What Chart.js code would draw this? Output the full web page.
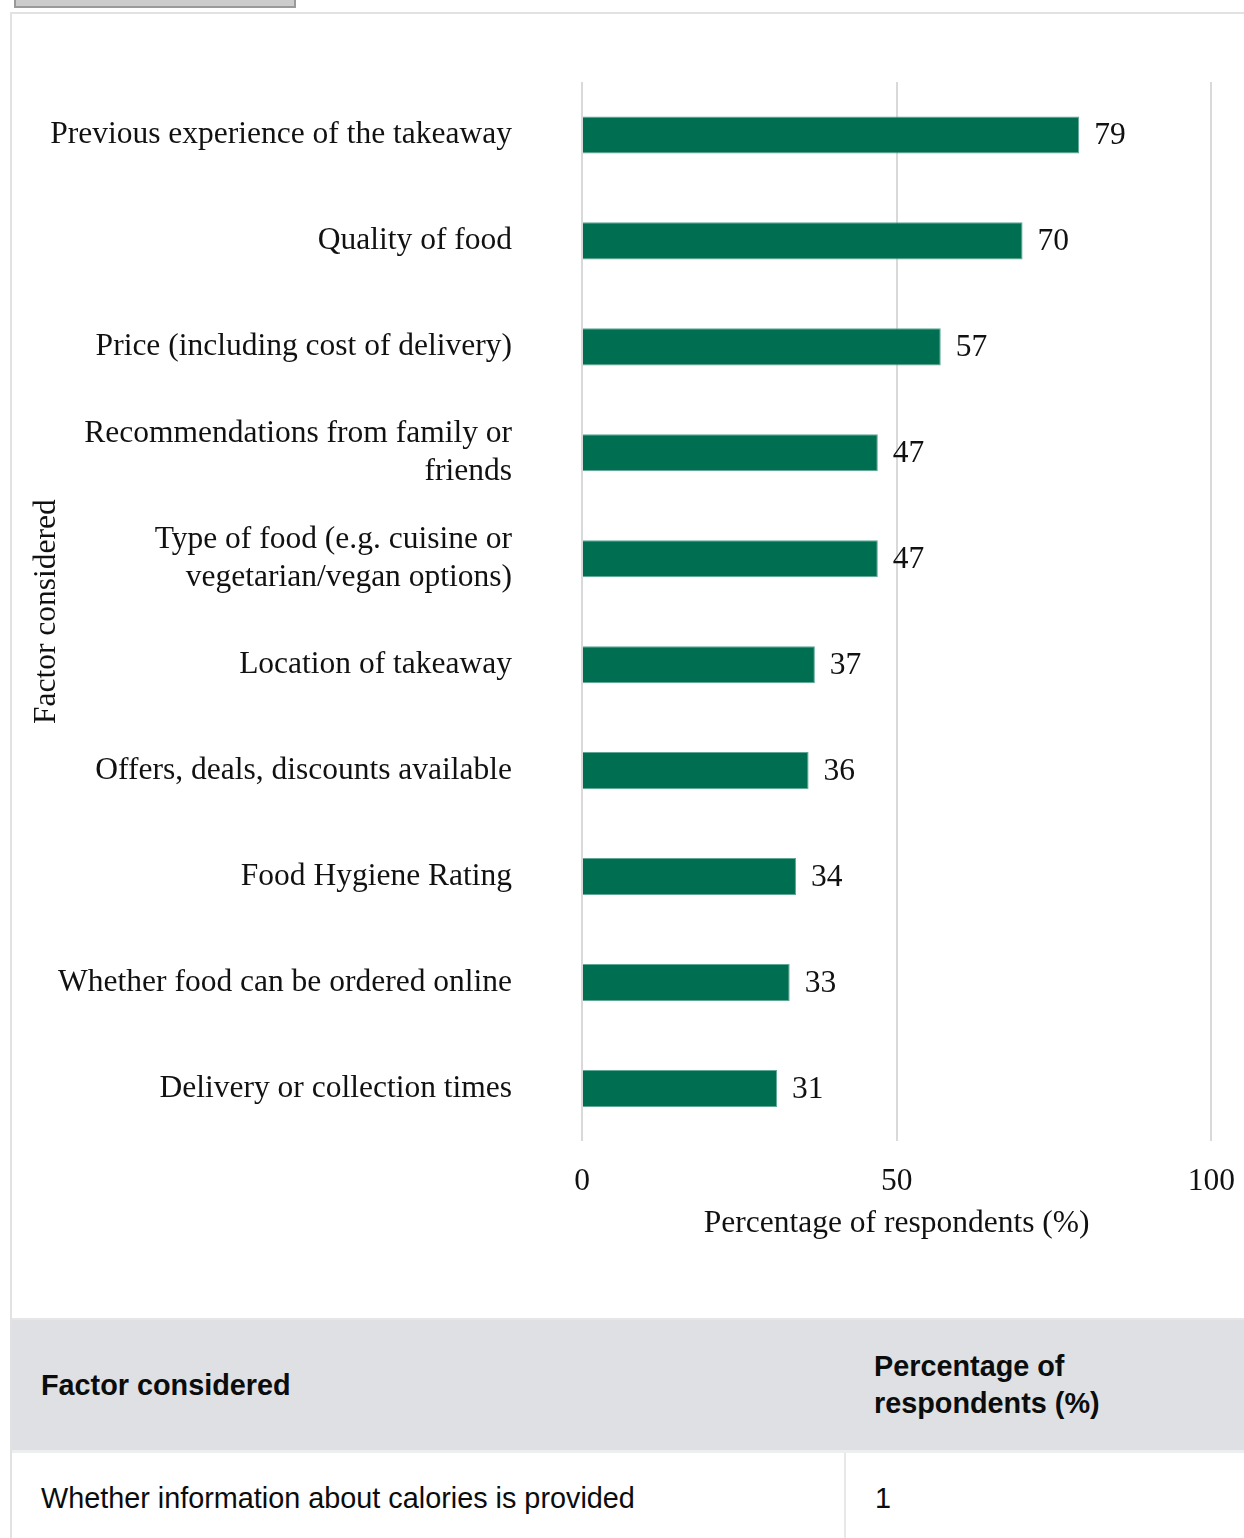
<!DOCTYPE html>
<html>
<head>
<meta charset="utf-8">
<script src="https://cdn.jsdelivr.net/npm/chart.js@4"></script>
<style>
  html, body { margin: 0; padding: 0; background: #fff; overflow: hidden; }
  body { width: 1244px; height: 1538px; position: relative; }
  .tab-btn {
    position: absolute; left: 14px; top: -20px; width: 278px; height: 24px;
    background: #cccccc; border: 2px solid #9a9a9a;
  }
  .panel {
    position: absolute; left: 10px; top: 12px; width: 1260px; height: 1560px;
    border-left: 2px solid #e2e2e2; border-top: 2px solid #e2e2e2;
  }
  .chart-box { position: relative; width: 1244px; height: 1304px; }
  table {
    border-collapse: collapse; width: 1260px;
    font-family: "Liberation Sans", Arial, sans-serif; font-size: 28.8px; color: #0b0c0c;
  }
  th {
    background: #dee0e3; text-align: left; font-weight: bold;
    height: 130px; padding: 0 0 0 29px; line-height: 37px;
    border-top: 2px solid #e6e6e6; border-bottom: 3px solid #eceef0;
  }
  td { height: 90px; padding: 0 0 0 29px; vertical-align: middle; }
  td + td { border-left: 2px solid #e8e8e8; }
</style>
</head>
<body>
<div class="tab-btn"></div>
<div class="panel">
  <div class="chart-box"><canvas id="factorChart"></canvas></div>
  <table>
    <tr><th style="width:804px">Factor considered</th><th>Percentage of<br>respondents (%)</th></tr>
    <tr><td>Whether information about calories is provided</td><td>1</td></tr>
  </table>
</div>

<script>
// factors people weigh up when choosing a takeaway
const factors = [
  'Previous experience of the takeaway',
  'Quality of food',
  'Price (including cost of delivery)',
  ['Recommendations from family or', 'friends'],
  ['Type of food (e.g. cuisine or', 'vegetarian/vegan options)'],
  'Location of takeaway',
  'Offers, deals, discounts available',
  'Food Hygiene Rating',
  'Whether food can be ordered online',
  'Delivery or collection times'
];
const percentages = [79, 70, 57, 47, 47, 37, 36, 34, 33, 31];
const xTicks = [0, 50, 100];

const serif = '"Liberation Serif", "Times New Roman", serif';
const fontSize = 31.5;
const barGreen = '#006f51';

// writes each bar's value just past its end
const valueLabels = {
  id: 'valueLabels',
  afterDatasetsDraw(chart) {
    const ctx = chart.ctx;
    const meta = chart.getDatasetMeta(0);
    ctx.save();
    ctx.font = fontSize + 'px ' + serif;
    ctx.fillStyle = '#111';
    ctx.textAlign = 'left';
    ctx.textBaseline = 'middle';
    meta.data.forEach((bar, i) => {
      ctx.fillText(String(chart.data.datasets[0].data[i]), bar.x + 15, bar.y + 1);
    });
    ctx.restore();
  }
};

const ctx = document.getElementById('factorChart').getContext('2d');
new Chart(ctx, {
  type: 'bar',
  data: {
    labels: factors,
    datasets: [{
      data: percentages,
      backgroundColor: barGreen,
      borderColor: '#5fa896',
      borderWidth: { top: 1, bottom: 1, right: 1, left: 0 },
      borderSkipped: 'left',
      categoryPercentage: 1,
      barPercentage: 0.35
    }]
  },
  options: {
    indexAxis: 'y',
    responsive: true,
    maintainAspectRatio: false,
    animation: false,
    layout: { padding: { top: 68, bottom: 75, left: 0, right: 0 } },
    scales: {
      x: {
        min: 0,
        max: 100,
        afterBuildTicks: (scale) => { scale.ticks = xTicks.map(v => ({ value: v })); },
        grid: { color: '#d9d9d9', lineWidth: 2, drawTicks: false },
        border: { display: false },
        ticks: { padding: 21, color: '#111', font: { family: serif, size: fontSize } },
        title: {
          display: true,
          text: 'Percentage of respondents (%)',
          color: '#111',
          font: { family: serif, size: fontSize },
          padding: { top: -16, bottom: 0 }
        }
      },
      y: {
        afterFit: (scale) => { scale.width = 570; },
        // invisible tick marks keep the labels clear of the bars
        grid: { display: true, drawOnChartArea: false, drawTicks: true, tickLength: 64, tickColor: 'rgba(0,0,0,0)' },
        border: { display: false },
        ticks: {
          padding: 6,
          color: '#111',
          font: { family: serif, size: fontSize, lineHeight: 1.2 }
        },
        title: {
          display: true,
          text: 'Factor considered',
          color: '#111',
          font: { family: serif, size: fontSize },
          padding: { top: 16, bottom: 0 }
        }
      }
    },
    plugins: {
      legend: { display: false },
      tooltip: { enabled: false }
    }
  },
  plugins: [valueLabels]
});
</script>
</body>
</html>
